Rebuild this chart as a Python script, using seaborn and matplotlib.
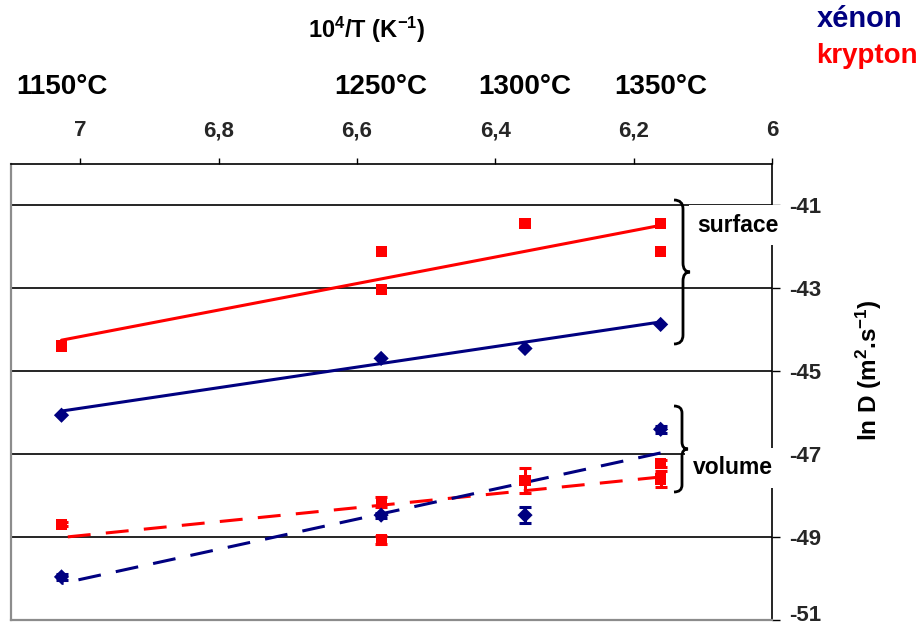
import matplotlib
matplotlib.use("Agg")
import matplotlib.pyplot as plt
from matplotlib.path import Path
from matplotlib.patches import PathPatch
import matplotlib.transforms as mtransforms
import numpy as np
import pandas as pd
import seaborn as sns

# ---------------- data ----------------
temp_labels = ["1150°C", "1250°C", "1300°C", "1350°C"]
temp_invT = [7.027, 6.565, 6.357, 6.161]

xticks = [7.0, 6.8, 6.6, 6.4, 6.2, 6.0]
xtick_labels = ["7", "6,8", "6,6", "6,4", "6,2", "6"]
yticks = [-51, -49, -47, -45, -43, -41]
ytick_labels = ["-51", "-49", "-47", "-45", "-43", "-41"]

# surface diffusion
xe_surf_x = [7.027, 6.565, 6.357, 6.161]
xe_surf_y = [-46.06, -44.69, -44.45, -43.87]
kr_surf_x = [7.027, 6.565, 6.565, 6.357, 6.161, 6.161]
kr_surf_y = [-44.39, -42.11, -43.02, -41.43, -41.43, -42.11]

# volume diffusion (with error bars)
xe_vol_x = [7.027, 6.565, 6.357, 6.161]
xe_vol_y = [-49.96, -48.47, -48.47, -46.40]
xe_vol_err = [0.08, 0.06, 0.19, 0.08]
kr_vol_x = [7.027, 6.565, 6.565, 6.357, 6.161, 6.161]
kr_vol_y = [-48.69, -48.15, -49.07, -47.64, -47.22, -47.60]
kr_vol_err = [0.05, 0.12, 0.10, 0.30, 0.08, 0.20]

# fitted trend lines (end points)
fit_x = [7.027, 6.161]
xe_surf_fit = [-45.96, -43.81]
kr_surf_fit = [-44.25, -41.48]
xe_vol_fit = [-50.12, -46.97]
kr_vol_fit = [-49.01, -47.55]

NAVY = "#000080"
RED = "#FF0000"

# ---------------- style ----------------
sns.set_theme(style="white")
plt.rcParams["font.family"] = ["Liberation Sans", "DejaVu Sans"]
plt.rcParams["font.weight"] = "bold"
plt.rcParams["axes.unicode_minus"] = False
plt.rcParams["mathtext.fontset"] = "custom"
plt.rcParams["mathtext.rm"] = "Liberation Sans:bold"
plt.rcParams["mathtext.bf"] = "Liberation Sans:bold"
plt.rcParams["mathtext.it"] = "Liberation Sans:bold:italic"
plt.rcParams["mathtext.default"] = "rm"

W, H = 922, 628
fig = plt.figure(figsize=(W / 100, H / 100), dpi=100)
L, R, T, B = 11, 772, 164, 620
ax = fig.add_axes([L / W, 1 - B / H, (R - L) / W, (B - T) / H])


def fx(px):
    return px / W


def fy(py):
    return 1 - py / H


# ---------------- marks ----------------
lw = 2.2
dash = (0, (7.5, 5.0))
sns.lineplot(x=fit_x, y=kr_surf_fit, ax=ax, color=RED, lw=lw, zorder=3)
sns.lineplot(x=fit_x, y=xe_surf_fit, ax=ax, color=NAVY, lw=lw, zorder=3)
sns.lineplot(x=fit_x, y=kr_vol_fit, ax=ax, color=RED, lw=lw, zorder=3,
             linestyle=dash)
sns.lineplot(x=fit_x, y=xe_vol_fit, ax=ax, color=NAVY, lw=lw, zorder=3,
             linestyle=dash)

ax.errorbar(kr_vol_x, kr_vol_y, yerr=kr_vol_err, fmt="none", ecolor=RED,
            elinewidth=2.2, capsize=4, capthick=2.2, zorder=4)
ax.errorbar(xe_vol_x, xe_vol_y, yerr=xe_vol_err, fmt="none", ecolor=NAVY,
            elinewidth=2.2, capsize=4, capthick=2.2, zorder=4)

sq = 64
dm = 60
sns.scatterplot(x=kr_surf_x, y=kr_surf_y, ax=ax, marker="s", s=sq, color=RED,
                edgecolor="none", linewidth=0, zorder=5)
sns.scatterplot(x=xe_surf_x, y=xe_surf_y, ax=ax, marker="D", s=dm, color=NAVY,
                edgecolor="none", linewidth=0, zorder=5)
sns.scatterplot(x=kr_vol_x, y=kr_vol_y, ax=ax, marker="s", s=sq, color=RED,
                edgecolor="none", linewidth=0, zorder=5)
sns.scatterplot(x=xe_vol_x, y=xe_vol_y, ax=ax, marker="D", s=dm, color=NAVY,
                edgecolor="none", linewidth=0, zorder=5)

# ---------------- axes ----------------
ax.set_xlim(7.1, 6.0)
ax.set_ylim(-51, -40)
ax.set_xlabel("")
ax.set_ylabel("")
ax.xaxis.tick_top()
ax.yaxis.tick_right()
ax.set_xticks(xticks, xtick_labels, fontsize=16, fontweight="bold")
ax.set_yticks(yticks, ytick_labels, fontsize=16, fontweight="bold")
ax.tick_params(axis="x", top=True, bottom=False, labeltop=True, labelbottom=False,
               direction="out", length=4.5, width=1, color="black", pad=12)
ax.tick_params(axis="y", right=True, left=False, labelright=True, labelleft=False,
               direction="out", length=6, width=1, color="black", pad=6)
# lift the lowest y label a little so it stays inside the picture
lowest = ax.get_yticklabels()[0]
lowest.set_transform(lowest.get_transform() +
                     mtransforms.ScaledTranslation(0, 5 / 72, fig.dpi_scale_trans))
ax.set_axisbelow(True)
ax.yaxis.grid(True, color="black", linewidth=1.2)
ax.xaxis.grid(False)
for side in ["left", "bottom"]:
    ax.spines[side].set_color("#8c8c8c")
    ax.spines[side].set_linewidth(1.6)
for side in ["top", "right"]:
    ax.spines[side].set_color("black")
    ax.spines[side].set_linewidth(1.2)
    ax.spines[side].set_visible(True)

# ---------------- texts ----------------
fig.text(fx(367), fy(30), r"10$^{4}$/T (K$^{-1}$)", ha="center", va="center",
         fontsize=17, fontweight="bold", color="black")

blend = mtransforms.blended_transform_factory(ax.transData, fig.transFigure)
for lab, xv in zip(temp_labels, temp_invT):
    ax.text(xv, fy(87), lab, transform=blend, ha="center", va="center",
            fontsize=20, fontweight="bold", color="black", clip_on=False)

fig.text(fx(860), fy(19), "xénon", ha="center", va="center", fontsize=21,
         fontweight="bold", color=NAVY)
fig.text(fx(867), fy(56), "krypton", ha="center", va="center", fontsize=20,
         fontweight="bold", color=RED)

fig.text(fx(869), fy(370), r"ln D (m$^{2}$.s$^{-1}$)", rotation=90, ha="center",
         va="center", fontsize=17.5, fontweight="bold", color="black")

box = dict(boxstyle="square,pad=0.35", fc="white", ec="none")
fig.text(fx(738), fy(225), "surface", ha="center", va="center", fontsize=16.5,
         fontweight="bold", color="black", bbox=box, zorder=10)
fig.text(fx(733), fy(468), "volume", ha="center", va="center", fontsize=16.5,
         fontweight="bold", color="black", bbox=box, zorder=10)


def brace(x0, ytop, ybot, hook, tip, c=9, lw=2.0):
    ym = (ytop + ybot) / 2
    pts = [
        (x0 - hook, ytop),
        (x0, ytop), (x0, ytop + c),
        (x0, ym - c),
        (x0, ym), (x0 + tip, ym),
        (x0, ym), (x0, ym + c),
        (x0, ybot - c),
        (x0, ybot), (x0 - hook, ybot),
    ]
    codes = [Path.MOVETO, Path.CURVE3, Path.CURVE3, Path.LINETO,
             Path.CURVE3, Path.CURVE3, Path.CURVE3, Path.CURVE3,
             Path.LINETO, Path.CURVE3, Path.CURVE3]
    verts = [(fx(px), fy(py)) for px, py in pts]
    patch = PathPatch(Path(verts, codes), transform=fig.transFigure,
                      fill=False, ec="black", lw=lw, zorder=11)
    fig.add_artist(patch)


brace(683, 200, 344, 9, 7)
brace(682, 406, 492, 8, 6, c=7)

fig.savefig("out.png", dpi=100)
